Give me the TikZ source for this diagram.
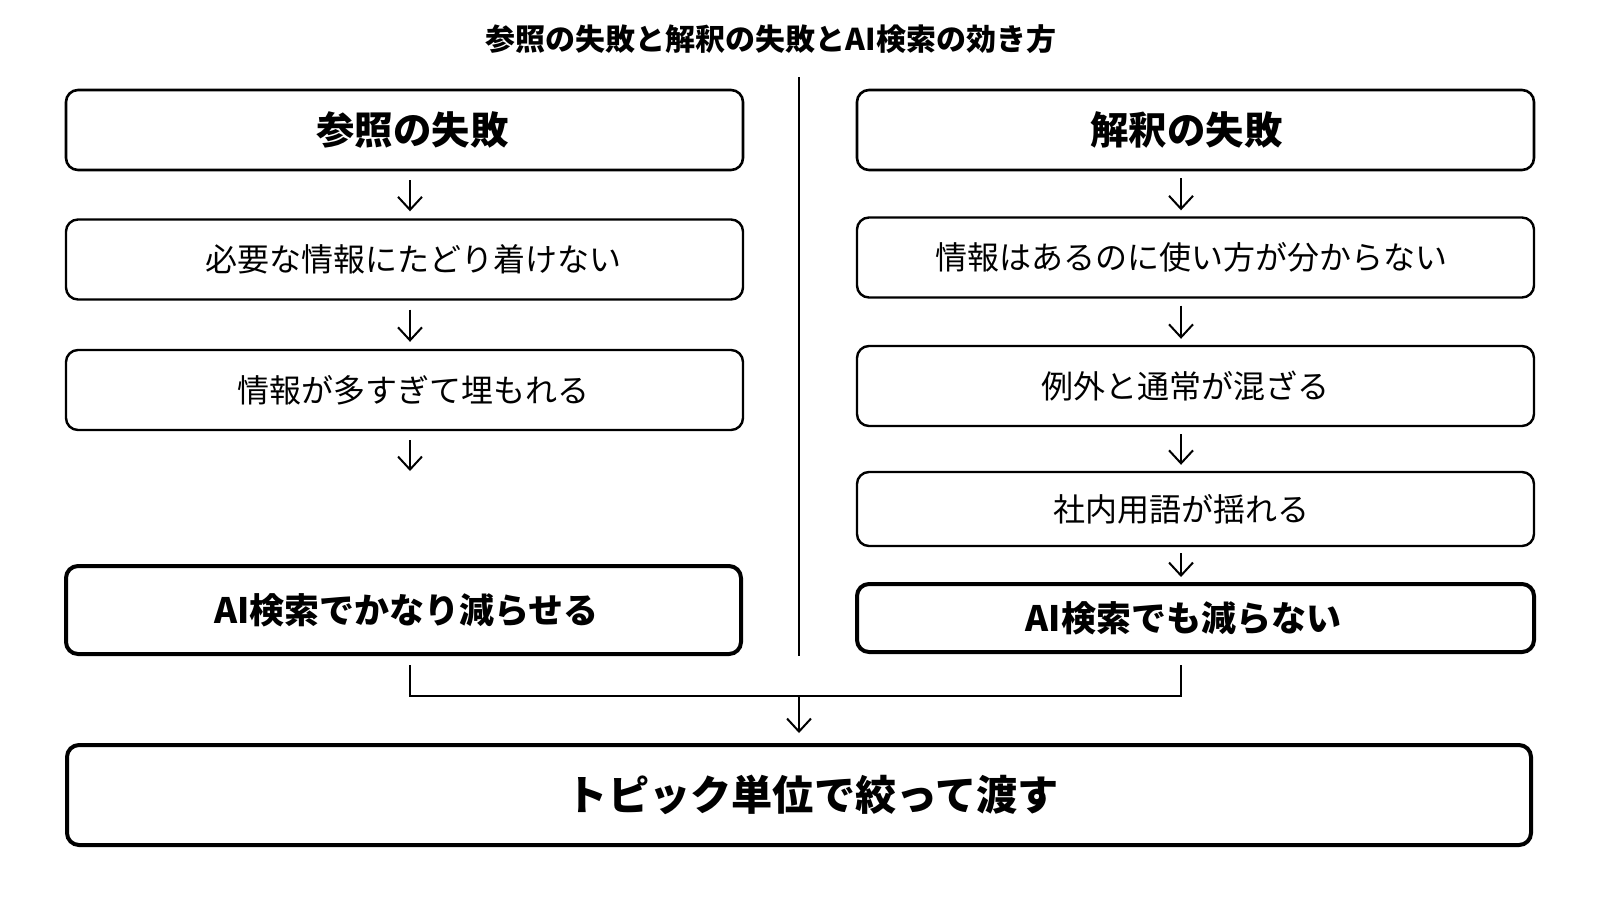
\documentclass[tikz,border=0pt]{standalone}
\usepackage{fontspec}
\setmainfont{Noto Sans CJK JP}
\usetikzlibrary{arrows.meta}
\newcommand\padL[2]{\hspace*{#1}#2}
\newcommand\padR[2]{#2\hspace*{#1}}
\begin{document}
\begin{tikzpicture}[x=0.5pt,y=-0.5pt,
  boxbase/.style={draw=black, rounded corners=6pt, inner sep=0pt, fill=white},
  head/.style={boxbase, line width=1.3pt, minimum width=338.5pt, minimum height=40pt, font=\bfseries\fontsize{19.2}{22}\selectfont},
  box/.style={boxbase, line width=1.2pt, minimum width=338.5pt, minimum height=40pt, font=\fontsize{16}{19}\selectfont},
  res/.style={boxbase, line width=2pt, minimum width=338.5pt, font=\bfseries\fontsize{17.5}{20}\selectfont},
  final/.style={boxbase, line width=2pt, minimum width=732pt, minimum height=50pt, font=\bfseries\fontsize{20.6}{24}\selectfont},
  titletext/.style={font=\bfseries\fontsize{15}{18}\selectfont, inner sep=0pt},
  arr/.style={line width=1pt, -{Straight Barb[length=6.5pt,width=12pt]}},
  conn/.style={line width=1pt}
]
\fill[white] (0,0) rectangle (1600,900);
\path[use as bounding box] (0,0) rectangle (1600,900);

\node[titletext] (T) at (771,39) {参照の失敗と解釈の失敗とAI検索の効き方};

% divider
\coordinate (D1) at (799,77);
\coordinate (D2) at (799,656);
\draw[conn] (D1) -- (D2);

% arrow axes
\coordinate (axL) at (410,0);
\coordinate (axR) at (1181,0);

% left column
\node[head] (L1) at (404.5,130) {\padL{8pt}{参照の失敗}};
\node[box] (L2) at (404.5,259.5) {\padL{9pt}{必要な情報にたどり着けない}};
\node[box] (L3) at (404.5,390) {\padL{9pt}{情報が多すぎて埋もれる}};
\node[res, minimum height=44pt, minimum width=337.5pt] (L4) at (403.5,610) {\padL{3pt}{AI検索でかなり減らせる}};
\coordinate (Lend) at (410,471);

% right column
\node[head] (R1) at (1195.5,130) {\padR{9pt}{解釈の失敗}};
\node[box] (R2) at (1195.5,257.5) {\padR{4pt}{情報はあるのに使い方が分からない}};
\node[box] (R3) at (1195.5,386) {\padR{10pt}{例外と通常が混ざる}};
\node[box, minimum height=37pt] (R4) at (1195.5,509) {\padR{14pt}{社内用語が揺れる}};
\node[res, minimum height=34pt] (R5) at (1195.5,618) {\padR{12pt}{AI検索でも減らない}};

% bottom
\node[final] (B) at (799,795) {\padL{14pt}{トピック単位で絞って渡す}};

% left arrows
\draw[arr, shorten <=4.5pt, shorten >=3.5pt] (L1.south -| axL) -- (L2.north -| axL);
\draw[arr, shorten <=4.5pt, shorten >=3.5pt] (L2.south -| axL) -- (L3.north -| axL);
\draw[arr, shorten <=4.5pt] (L3.south -| axL) -- (Lend);

% right arrows
\draw[arr, shorten <=3.5pt, shorten >=3pt] (R1.south -| axR) -- (R2.north -| axR);
\draw[arr, shorten <=3.5pt, shorten >=3pt] (R2.south -| axR) -- (R3.north -| axR);
\draw[arr, shorten <=3.5pt, shorten >=3pt] (R3.south -| axR) -- (R4.north -| axR);
\draw[arr, shorten <=3pt, shorten >=2.5pt] (R4.south -| axR) -- (R5.north -| axR);

% merge
\coordinate (J) at (799,696);
\draw[conn] ([yshift=-4.5pt]L4.south -| axL) |- (J) -| ([yshift=-5.5pt]R5.south -| axR);
\draw[arr, shorten >=5pt] (J) -- (B.north);
\end{tikzpicture}
\end{document}
